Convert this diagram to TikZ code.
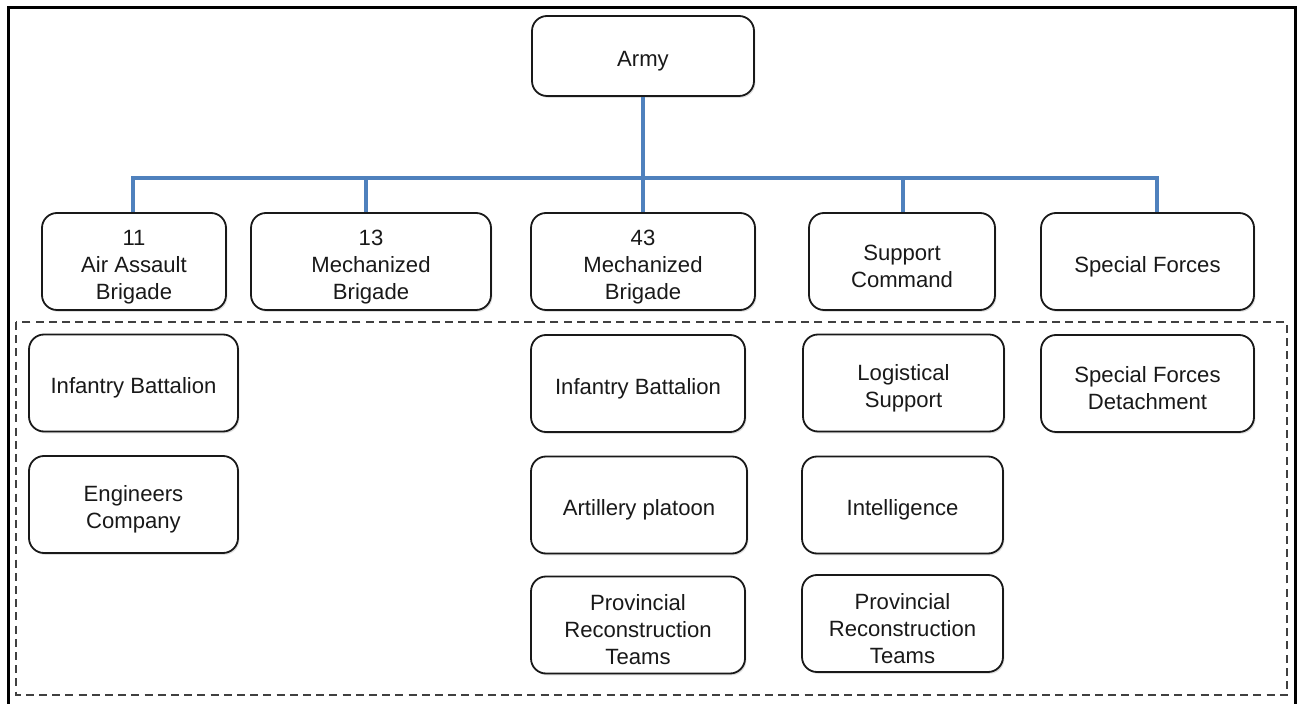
\documentclass[tikz,border=0pt]{standalone}
\usepackage{fontspec}
\setmainfont{Liberation Sans}
\usetikzlibrary{shadows}
\definecolor{busblue}{RGB}{79,129,189}
\definecolor{txt}{RGB}{25,25,25}
\newcommand\lowstrut{\rule{0pt}{13pt}}
\begin{document}
\begin{tikzpicture}[x=0.5pt,y=-0.5pt,
  box/.style={draw=black!90, line width=0.9pt, rounded corners=7.5pt, fill=white,
    align=center, inner sep=2pt, text=txt,
    font=\fontsize{11.05pt}{13.5pt}\selectfont,
    drop shadow={shadow xshift=0.7pt, shadow yshift=-0.9pt, opacity=0.25}},
  lvl/.style={box, minimum height=48.5pt},
  kid/.style={box, minimum height=48.5pt},
  conn/.style={draw=busblue, line width=2pt},
  grp/.style={draw=black!75, line width=0.9pt, dash pattern=on 4pt off 2.6pt},
  frame/.style={draw=black, line width=1.5pt}]
\useasboundingbox (0,0) rectangle (1299,704);
\fill[white] (0,0) rectangle (1299,704);
% outer frame
\draw[frame] (8,712) -- (8,8) -- (1295,8) -- (1295,712);
% dashed group
\draw[grp] (16,322) rectangle (1287,695);
% top
\node[box, minimum width=111pt, minimum height=40pt] (army) at (643,56) {\lowstrut Army};
% level 1
\node[lvl, minimum width=92pt]   (a11) at (134,261.5) {\lowstrut 11\\Air Assault\\Brigade};
\node[lvl, minimum width=120pt]  (b13) at (371,261.5) {\lowstrut 13\\Mechanized\\Brigade};
\node[lvl, minimum width=112pt]  (b43) at (643,261.5) {\lowstrut 43\\Mechanized\\Brigade};
\node[lvl, minimum width=93pt]   (sup) at (902,261.5) {\lowstrut Support\\Command};
\node[lvl, minimum width=106.5pt] (sf) at (1147.5,261.5) {\lowstrut Special Forces};
% children
\node[kid, minimum width=104.5pt] (ib1) at (133.5,383) {\lowstrut Infantry Battalion};
\node[kid, minimum width=104.5pt] (ec) at (133.5,504.5) {\lowstrut Engineers\\Company};
\node[kid, minimum width=107pt] (ib43) at (638,383.5) {\lowstrut Infantry Battalion};
\node[kid, minimum width=108pt] (ap) at (639,505) {\lowstrut Artillery platoon};
\node[kid, minimum width=107pt] (prt1) at (638,625) {\lowstrut Provincial\\Reconstruction\\Teams};
\node[kid, minimum width=100.5pt] (ls) at (903.5,383) {\lowstrut Logistical\\Support};
\node[kid, minimum width=100.5pt] (int) at (902.5,505) {\lowstrut Intelligence};
\node[kid, minimum width=100.5pt] (prt2) at (902.5,623.5) {\lowstrut Provincial\\Reconstruction\\Teams};
\node[kid, minimum width=106.5pt] (sfd) at (1147.5,383.5) {\lowstrut Special Forces\\Detachment};
% connectors
\coordinate (bus) at (643,178);
\coordinate (s11) at (133,178);
\coordinate (s13) at (366,178);
\coordinate (ssup) at (903,178);
\coordinate (ssf) at (1157,178);
\draw[conn] (army.south) -- (b43.north);
\draw[conn] (s11 |- a11.north) -- (s11) -- (ssf) -- (ssf |- sf.north);
\draw[conn] (s13) -- (s13 |- b13.north);
\draw[conn] (ssup) -- (ssup |- sup.north);
\end{tikzpicture}
\end{document}
